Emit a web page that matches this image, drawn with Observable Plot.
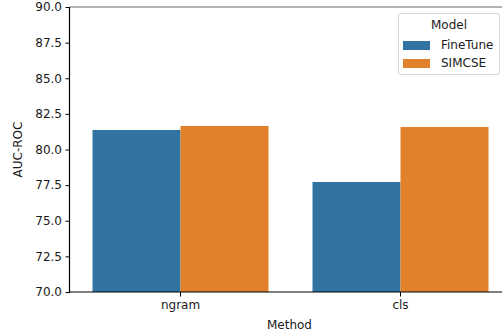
<!DOCTYPE html>
<html><head>
<meta charset="utf-8">
<script src="https://cdn.jsdelivr.net/npm/d3@7"></script>
<script src="https://cdn.jsdelivr.net/npm/@observablehq/plot@0.6"></script>
<style>
body{margin:0;overflow:hidden;background:#fff;font-family:"DejaVu Sans",sans-serif;}
#wrap{position:relative;width:502px;height:332px;overflow:hidden;}
#wrap svg{overflow:hidden;}
.legend{position:absolute;left:398px;top:13px;width:102px;height:62px;box-sizing:border-box;border:1px solid #d5d5d5;border-radius:3px;background:rgba(255,255,255,0.8);font-size:12px;color:#1a1a1a;}
.legend .title{position:absolute;left:0;right:0;top:4px;text-align:center;}
.legend .item{position:absolute;left:4px;height:14px;display:flex;align-items:center;}
.legend .sw{width:27px;height:9px;margin-right:11px;}
</style></head>
<body><div id="wrap"></div>
<script>
const methods = ["ngram", "cls"];
const models = ["FineTune", "SIMCSE"];
const fineTune = [81.37, 77.72];
const simcse = [81.65, 81.58];
const yTicks = [70, 72.5, 75, 77.5, 80, 82.5, 85, 87.5, 90];
const colors = ["#3274a1", "#e1812c"];

const data = methods.flatMap((m, i) => [
  {method: m, model: models[0], value: fineTune[i]},
  {method: m, model: models[1], value: simcse[i]}
]);

const fxRange = [69.5, 509.5];
const padIn = 0.2, padOut = 0.1;
// offset from the first facet's left edge back to the frame's left edge
const band = d3.scaleBand(methods, fxRange).paddingInner(padIn).paddingOuter(padOut);
const facetOffset = band(methods[0]) - fxRange[0];

const plot = Plot.plot({
  width: 502, height: 332,
  marginTop: 7, marginBottom: 40, marginLeft: 69.5, marginRight: 0,
  style: {fontFamily: "DejaVu Sans", fontSize: "12px", color: "#1a1a1a", overflow: "hidden"},
  fx: {domain: methods, range: fxRange, paddingInner: padIn, paddingOuter: padOut, label: null, axis: null},
  x: {domain: models, padding: 0, axis: null},
  y: {domain: [yTicks[0], yTicks[yTicks.length - 1]], label: null, axis: null},
  color: {domain: models, range: colors},
  marks: [
    Plot.barY(data, {fx: "method", x: "model", y1: yTicks[0], y2: "value", fill: "model"}),
    Plot.axisY({dx: -facetOffset, ticks: yTicks, tickFormat: d3.format(".1f"), tickSize: 4.5, tickPadding: 4, label: null, fontSize: 12, stroke: "#000"}),
    Plot.axisFx({anchor: "bottom", tickSize: 4.5, tickPadding: 3, label: null, fontSize: 12, stroke: "#000"})
  ]
});

const wrap = document.getElementById("wrap");
wrap.appendChild(plot);

const sy = plot.scale("y");
const svg = d3.select(plot);
const y0 = sy.apply(yTicks[0]), y1 = sy.apply(yTicks[yTicks.length - 1]);
const xl = fxRange[0], xr = fxRange[1];
svg.append("line").attr("x1", xl).attr("x2", xr).attr("y1", y0).attr("y2", y0).attr("stroke", "#000").attr("stroke-width", 1.2);
svg.append("line").attr("x1", xl).attr("x2", xr).attr("y1", y1).attr("y2", y1).attr("stroke", "#666").attr("stroke-width", 1.2);
svg.append("line").attr("x1", xl).attr("x2", xl).attr("y1", y0).attr("y2", y1).attr("stroke", "#000").attr("stroke-width", 1.2);
svg.append("text").attr("x", (xl + xr) / 2).attr("y", 329).attr("text-anchor", "middle")
  .attr("font-size", 12).attr("fill", "#1a1a1a").text("Method");
svg.append("text").attr("transform", `translate(22,${(y0 + y1) / 2}) rotate(-90)`).attr("text-anchor", "middle")
  .attr("font-size", 12).attr("fill", "#1a1a1a").text("AUC-ROC");

const lg = document.createElement("div");
lg.className = "legend";
lg.innerHTML = `<div class="title">Model</div>` + models.map((m, i) =>
  `<div class="item" style="top:${24 + i * 18}px"><div class="sw" style="background:${colors[i]}"></div>${m}</div>`).join("");
wrap.appendChild(lg);
</script>
</body></html>
